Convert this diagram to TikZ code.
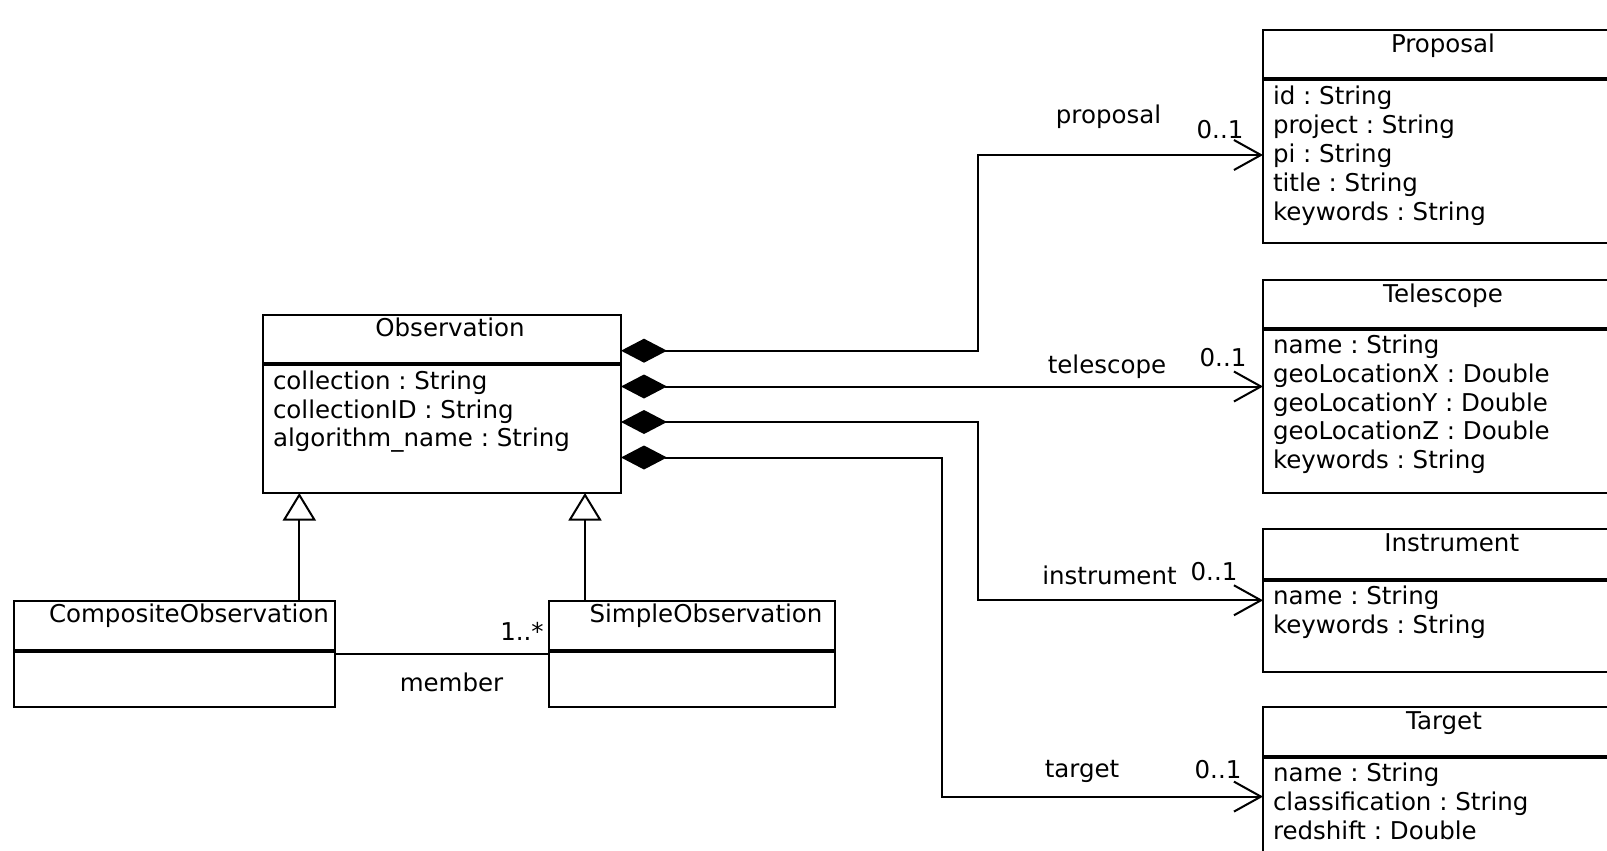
\documentclass[tikz,border=0pt]{standalone}
\usepackage{fontspec}
\setmainfont{DejaVu Sans}
\usetikzlibrary{arrows.meta}
\frenchspacing
\begin{document}
\begin{tikzpicture}[x=0.5pt,y=-0.5pt,line width=1pt,
  classbox/.style={draw,line width=1pt,anchor=north west,inner sep=0pt,outer sep=0pt},
  sepline/.style={line width=2pt},
  umltxt/.style={font=\fontsize{12.25}{14}\selectfont,inner sep=0pt},
  title/.style={umltxt,anchor=base},
  attr/.style={umltxt,anchor=base west},
  lbl/.style={umltxt,anchor=base},
  comp/.style={{Diamond[length=23pt,width=12pt]}-{Straight Barb[length=13.5pt,width=15pt]}},
  gen/.style={-{Triangle[open,length=13.75pt,width=16.5pt]}}]
  \clip (0,0) rectangle (1607,851);
  \fill[white] (0,0) rectangle (1607,851);

  % Observation
  \node[classbox,minimum width=179pt,minimum height=89pt] (obs) at (263,315) {};
  \draw[sepline] (obs.west |- 0,364) -- (obs.east |- 0,364);
  \node[title] (obs-t) at (450,336.7) {Observation};
  \node[attr] (obs-a1) at (272,389.5) {collection : String};
  \node[attr] (obs-a2) at (272,418) {collectionID : String};
  \node[attr] (obs-a3) at (272,446.5) {algorithm\_name : String};

  % CompositeObservation
  \node[classbox,minimum width=160.5pt,minimum height=53pt] (comp) at (14,600.7) {};
  \draw[sepline] (comp.west |- 0,651) -- (comp.east |- 0,651);
  \node[title] (comp-t) at (189,622.7) {CompositeObservation};

  % SimpleObservation
  \node[classbox,minimum width=143pt,minimum height=53pt] (simp) at (549,600.7) {};
  \draw[sepline] (simp.west |- 0,651) -- (simp.east |- 0,651);
  \node[title] (simp-t) at (706,622.7) {SimpleObservation};

  % Proposal
  \node[classbox,minimum width=188.5pt,minimum height=106.5pt] (prop) at (1263,30) {};
  \draw[sepline] (prop.west |- 0,79) -- (prop.east |- 0,79);
  \node[title] (prop-t) at (1443,52) {Proposal};
  \node[attr] (prop-a1) at (1272,104) {id : String};
  \node[attr] (prop-a2) at (1272,133) {project : String};
  \node[attr] (prop-a3) at (1272,162) {pi : String};
  \node[attr] (prop-a4) at (1272,191) {title : String};
  \node[attr] (prop-a5) at (1272,220) {keywords : String};

  % Telescope
  \node[classbox,minimum width=188.5pt,minimum height=106.5pt] (tel) at (1263,280) {};
  \draw[sepline] (tel.west |- 0,329) -- (tel.east |- 0,329);
  \node[title] (tel-t) at (1443,302) {Telescope};
  \node[attr] (tel-a1) at (1272,353.5) {name : String};
  \node[attr] (tel-a2) at (1272,382.3) {geoLocationX : Double};
  \node[attr] (tel-a3) at (1272,411.1) {geoLocationY : Double};
  \node[attr] (tel-a4) at (1272,439.9) {geoLocationZ : Double};
  \node[attr] (tel-a5) at (1272,468.7) {keywords : String};

  % Instrument
  \node[classbox,minimum width=188.5pt,minimum height=71.2pt] (inst) at (1263,529.3) {};
  \draw[sepline] (inst.west |- 0,580) -- (inst.east |- 0,580);
  \node[title] (inst-t) at (1451.7,551.3) {Instrument};
  \node[attr] (inst-a1) at (1272,604.5) {name : String};
  \node[attr] (inst-a2) at (1272,633.3) {keywords : String};

  % Target
  \node[classbox,minimum width=188.5pt,minimum height=100pt] (targ) at (1263,707.3) {};
  \draw[sepline] (targ.west |- 0,757.3) -- (targ.east |- 0,757.3);
  \node[title] (targ-t) at (1444,729.3) {Target};
  \node[attr] (targ-a1) at (1272,781) {name : String};
  \node[attr] (targ-a2) at (1272,810) {classification : String};
  \node[attr] (targ-a3) at (1272,839) {redshift : Double};

  % compositions
  \draw[comp] (obs.east |- 0,350.7) -- (977.7,350.7) |- (prop.west |- 0,155);
  \draw[comp] (obs.east |- 0,386.5) -- (tel.west |- 0,386.5);
  \draw[comp] (obs.east |- 0,422) -- (977.7,422) |- (inst.west |- 0,600.3);
  \draw[comp] (obs.east |- 0,457.5) -- (941.7,457.5) |- (targ.west |- 0,796.6);

  % association labels
  \node[lbl] (l-prop) at (1108.5,123) {proposal};
  \node[lbl] (m-prop) at (1220,138.3) {0..1};
  \node[lbl] (l-tel) at (1107,373) {telescope};
  \node[lbl] (m-tel) at (1223,366.7) {0..1};
  \node[lbl] (l-inst) at (1109.5,584) {instrument};
  \node[lbl] (m-inst) at (1214,580) {0..1};
  \node[lbl] (l-targ) at (1082,777) {target};
  \node[lbl] (m-targ) at (1218,778) {0..1};

  % generalizations
  \draw[gen] (comp.north -| 299.3,0) -- (obs.south -| 299.3,0);
  \draw[gen] (simp.north -| 585,0) -- (obs.south -| 585,0);

  % member association
  \draw (comp.east |- 0,654.3) -- (simp.west |- 0,654.3);
  \node[lbl] (l-mem) at (451.5,691) {member};
  \node[lbl] (m-mem) at (522,640) {1..*};
\end{tikzpicture}
\end{document}
